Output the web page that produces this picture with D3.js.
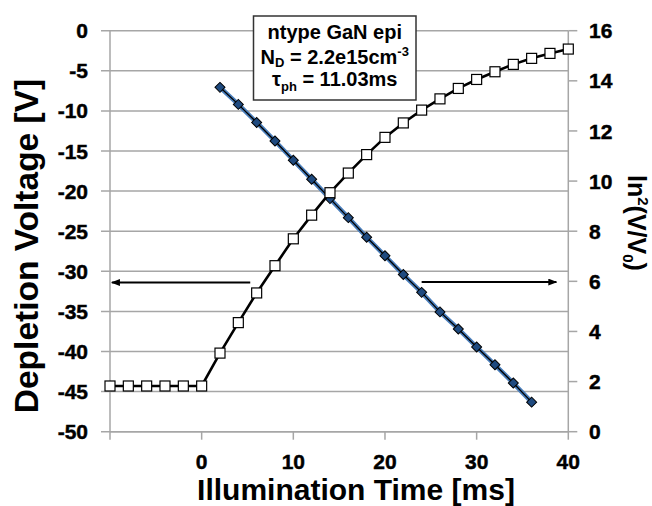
<!DOCTYPE html>
<html><head><meta charset="utf-8">
<script src="https://cdn.jsdelivr.net/npm/d3@7"></script>
<style>
html,body{margin:0;padding:0;background:#fff;}
text{font-family:"Liberation Sans",Arial,sans-serif;font-weight:bold;fill:#000;}
.tk{stroke:#000;stroke-width:0.45px;}
</style></head>
<body><svg id="c" width="652" height="506"></svg>
<script>
// ---- data ----
const timeSq = [-10,-8,-6,-4,-2,0,2,4,6,8,10,12,14,16,18,20,22,24,26,28,30,32,34,36,38,40];
const voltage = [-44.3,-44.3,-44.3,-44.3,-44.3,-44.3,-40.2,-36.4,-32.7,-29.3,-25.95,-23.0,-20.2,-17.75,-15.45,-13.3,-11.5,-9.9,-8.5,-7.2,-6.08,-5.12,-4.2,-3.45,-2.83,-2.29];
const timeDi = [2,4,6,8,10,12,14,16,18,20,22,24,26,28,30,32,34,36];
const lnsq = [13.74,13.06,12.34,11.6,10.83,10.07,9.3,8.54,7.76,7.02,6.27,5.56,4.78,4.1,3.38,2.67,1.94,1.18];
const xTicks = [-10,0,10,20,30,40];
const xTickLabels = ["","0","10","20","30","40"];
const yLeftTicks = [0,-5,-10,-15,-20,-25,-30,-35,-40,-45,-50];
const yRightTicks = [0,2,4,6,8,10,12,14,16];
// annotation arrows in data coords
const arrowLeft = {x0:5.3, x1:-9.8, y:-31.4};
const arrowRight = {x0:24, x1:38.7, y:5.97};

const svg = d3.select("#c");
const L=110, R=568.3, T=30.7, B=431.7;
const x = d3.scaleLinear().domain([-10,40]).range([L,R]);
const yL = d3.scaleLinear().domain([-50,0]).range([B,T]);
const yR = d3.scaleLinear().domain([0,16]).range([B,T]);
const grid="#a6a6a6";

// gridlines
svg.append("g").selectAll("line").data(yLeftTicks).join("line")
  .attr("x1",L-9).attr("x2",R).attr("y1",d=>yL(d)).attr("y2",d=>yL(d))
  .attr("stroke",grid).attr("stroke-width",1.5);
// axes lines
svg.append("line").attr("x1",L).attr("x2",L).attr("y1",T).attr("y2",B).attr("stroke",grid).attr("stroke-width",1.5);
svg.append("line").attr("x1",R).attr("x2",R).attr("y1",T).attr("y2",B).attr("stroke",grid).attr("stroke-width",1.5);
svg.append("line").attr("x1",L).attr("x2",R).attr("y1",B).attr("y2",B).attr("stroke",grid).attr("stroke-width",1.5);
// right ticks
svg.append("g").selectAll("line").data(yRightTicks).join("line")
  .attr("x1",R).attr("x2",R+9).attr("y1",d=>yR(d)).attr("y2",d=>yR(d))
  .attr("stroke",grid).attr("stroke-width",1.5);
// x ticks
svg.append("g").selectAll("line").data(xTicks).join("line")
  .attr("x1",d=>x(d)).attr("x2",d=>x(d)).attr("y1",B).attr("y2",B+8)
  .attr("stroke",grid).attr("stroke-width",1.5);

// tick labels
const fsTick=21;
svg.append("g").selectAll("text").data(yLeftTicks).join("text").attr("class","tk")
  .attr("x",88).attr("y",d=>yL(d)).attr("dy","0.36em").attr("text-anchor","end")
  .attr("font-size",fsTick).text(d=>d);
svg.append("g").selectAll("text").data(yRightTicks).join("text").attr("class","tk")
  .attr("x",589).attr("y",d=>yR(d)).attr("dy","0.36em").attr("text-anchor","start")
  .attr("font-size",fsTick).text(d=>d);
svg.append("g").selectAll("text").data(xTicks).join("text").attr("class","tk")
  .attr("x",d=>x(d)).attr("y",469).attr("text-anchor","middle")
  .attr("font-size",fsTick).text((d,i)=>xTickLabels[i]);

// axis titles
svg.append("text").attr("x",356).attr("y",500).attr("text-anchor","middle")
  .attr("font-size",30).text("Illumination Time [ms]");
svg.append("text").attr("transform","translate(38,246) rotate(-90)").attr("text-anchor","middle")
  .attr("font-size",33.5).text("Depletion Voltage [V]");
const rt = svg.append("text").attr("transform","translate(628,175) rotate(90)").attr("text-anchor","start")
  .attr("font-size",25);
rt.append("tspan").text("ln");
rt.append("tspan").attr("font-size",15).attr("dy",-10).text("2");
rt.append("tspan").attr("dy",10).text("(V/V");
rt.append("tspan").attr("font-size",15).attr("dy",5).text("0");
rt.append("tspan").attr("dy",-5).text(")");

// diamonds series: blue fit line + black line
const lineR = d3.line().x((d,i)=>x(timeDi[i])).y(d=>yR(d));
svg.append("path").datum(lnsq).attr("d",lineR).attr("fill","none").attr("stroke","#4a7ebb").attr("stroke-width",4.5);
svg.append("path").datum(lnsq).attr("d",lineR).attr("fill","none").attr("stroke","#000").attr("stroke-width",1.3);
svg.append("g").selectAll("path").data(lnsq).join("path")
  .attr("d",d3.symbol(d3.symbolSquare,50)())
  .attr("transform",(d,i)=>`translate(${x(timeDi[i])},${yR(d)}) rotate(45)`)
  .attr("fill","#1f4a7f").attr("stroke","#000").attr("stroke-width",1);

// squares series
const lineL = d3.line().x((d,i)=>x(timeSq[i])).y(d=>yL(d));
svg.append("path").datum(voltage).attr("d",lineL).attr("fill","none").attr("stroke","#000").attr("stroke-width",2.6);
svg.append("g").selectAll("rect").data(voltage).join("rect")
  .attr("x",(d,i)=>x(timeSq[i])-5).attr("y",d=>yL(d)-5).attr("width",10).attr("height",10)
  .attr("fill","#fff").attr("stroke","#000").attr("stroke-width",1.2);

// arrows
const defs = svg.append("defs");
defs.append("marker").attr("id","ah").attr("viewBox","0 0 10 10").attr("refX",9).attr("refY",5)
  .attr("markerWidth",4.5).attr("markerHeight",3.5).attr("markerUnits","strokeWidth").attr("orient","auto")
  .attr("preserveAspectRatio","none")
  .append("path").attr("d","M0,0 L10,5 L0,10 Z").attr("fill","#000");
svg.append("line").attr("x1",x(arrowLeft.x0)).attr("x2",x(arrowLeft.x1))
  .attr("y1",yL(arrowLeft.y)).attr("y2",yL(arrowLeft.y)).attr("stroke","#000").attr("stroke-width",2)
  .attr("marker-end","url(#ah)");
svg.append("line").attr("x1",x(arrowRight.x0)).attr("x2",x(arrowRight.x1))
  .attr("y1",yR(arrowRight.y)).attr("y2",yR(arrowRight.y)).attr("stroke","#000").attr("stroke-width",2)
  .attr("marker-end","url(#ah)");

// text box
const bx=253.5, by=16, bw=162.5, bh=84;
svg.append("rect").attr("x",bx).attr("y",by).attr("width",bw).attr("height",bh)
  .attr("fill","#fff").attr("stroke","#333").attr("stroke-width",1.5);
const cx = bx+bw/2, fsB=20;
svg.append("text").attr("x",cx).attr("y",39).attr("text-anchor","middle").attr("font-size",fsB).text("ntype GaN epi");
const t2 = svg.append("text").attr("x",cx).attr("y",64).attr("text-anchor","middle").attr("font-size",fsB);
t2.append("tspan").text("N");
t2.append("tspan").attr("font-size",13).attr("dy",3).text("D");
t2.append("tspan").attr("dy",-3).text(" = 2.2e15cm");
t2.append("tspan").attr("font-size",13).attr("dy",-8).text("-3");
const t3 = svg.append("text").attr("x",cx).attr("y",86).attr("text-anchor","middle").attr("font-size",fsB);
t3.append("tspan").text("τ");
t3.append("tspan").attr("font-size",13).attr("dy",5).text("ph");
t3.append("tspan").attr("dy",-5).text(" = 11.03ms");
</script></body></html>
